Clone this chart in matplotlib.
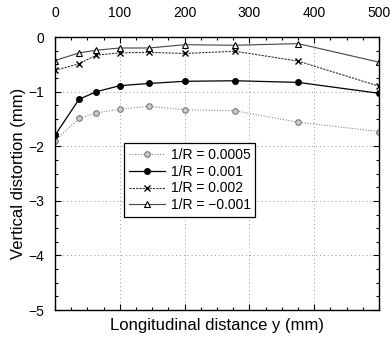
import matplotlib
matplotlib.use("Agg")
import matplotlib.pyplot as plt
from matplotlib.ticker import MultipleLocator

plt.rcParams['font.family'] = ['Liberation Sans', 'DejaVu Sans']

# data
x = [0, 37, 64, 100, 145, 200, 278, 375, 500]
r_0005 = [-1.90, -1.49, -1.39, -1.32, -1.27, -1.33, -1.35, -1.56, -1.73]
r_001 = [-1.80, -1.14, -1.00, -0.89, -0.85, -0.81, -0.80, -0.83, -1.03]
r_002 = [-0.61, -0.49, -0.33, -0.29, -0.28, -0.30, -0.26, -0.44, -0.90]
r_neg001 = [-0.43, -0.29, -0.24, -0.20, -0.20, -0.14, -0.15, -0.12, -0.46]
labels = ["1/R = 0.0005", "1/R = 0.001", "1/R = 0.002", "1/R = \u22120.001"]

fig = plt.figure(figsize=(3.9, 3.37), dpi=100)
ax = fig.add_axes([0.141, 0.080, 0.831, 0.810])

ax.plot(x, r_0005, color='#888888', lw=0.8, ls=(0, (1, 1.5)),
        marker='o', ms=4, mfc='#cccccc', mec='#777777', mew=0.8, label=labels[0])
ax.plot(x, r_001, color='black', lw=0.9, ls='-',
        marker='o', ms=4, mfc='black', mec='black', label=labels[1])
ax.plot(x, r_002, color='#333333', lw=0.8, ls=(0, (2, 1)),
        marker='x', ms=4, mew=1, mec='black', label=labels[2])
ax.plot(x, r_neg001, color='#444444', lw=0.8, ls='-',
        marker='^', ms=4.5, mfc='white', mec='black', mew=0.8, label=labels[3])

ax.set_xlim(0, 500)
ax.set_ylim(-5, 0)
ax.xaxis.set_major_locator(MultipleLocator(100))
ax.xaxis.set_minor_locator(MultipleLocator(25))
ax.yaxis.set_major_locator(MultipleLocator(1))
ax.yaxis.set_minor_locator(MultipleLocator(0.25))
ax.xaxis.tick_top()
ax.tick_params(which='both', direction='in', top=True, bottom=True, left=True, right=True,
               labelsize=10, width=0.8)
ax.tick_params(which='major', length=4, pad=12)
ax.tick_params(axis='y', which='major', pad=8)
ax.tick_params(which='minor', length=2.5)
ax.set_yticks([0, -1, -2, -3, -4, -5])
ax.set_yticklabels(['0', '\u22121', '\u22122', '\u22123', '\u22124', '\u22125'])

ax.grid(True, which='major', color='#999999', ls=(0, (1, 3)), lw=0.7)
for s in ax.spines.values():
    s.set_linewidth(1.0)

ax.set_xlabel("Longitudinal distance y (mm)", fontsize=12, labelpad=6)
ax.set_ylabel("Vertical distortion (mm)", fontsize=12, labelpad=1)

leg = ax.legend(loc='upper left', bbox_to_anchor=(0.213, 0.612), fontsize=10,
                frameon=True, fancybox=False, edgecolor='black', framealpha=1,
                handlelength=2.6, borderpad=0.35, labelspacing=0.2, handletextpad=0.4,
                borderaxespad=0)
leg.get_frame().set_linewidth(0.9)

fig.savefig("out.png", dpi=100)
